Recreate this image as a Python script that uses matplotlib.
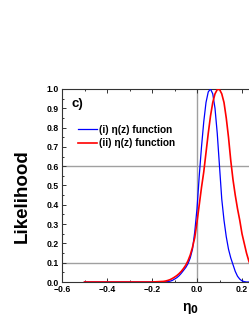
import matplotlib
matplotlib.use("Agg")
import matplotlib.pyplot as plt
from matplotlib.ticker import MultipleLocator

plt.rcParams['font.family'] = ['Liberation Sans', 'DejaVu Sans']
plt.rcParams['font.weight'] = 'bold'

# Curve (i): eta(z) function, blue
x_i = [-0.5, -0.2, -0.15, -0.14, -0.13, -0.12, -0.11, -0.10, -0.09, -0.08, -0.07, -0.06,
       -0.05, -0.04, -0.03, -0.02, -0.01, 0.00, 0.01, 0.02, 0.03, 0.04, 0.05, 0.06,
       0.07, 0.08, 0.09, 0.10, 0.11, 0.12, 0.13, 0.14, 0.15, 0.16, 0.17, 0.18, 0.19,
       0.20, 0.21, 0.22, 0.5]
y_i = [0.0, 0.0, 0.0, 0.001, 0.002, 0.004, 0.008, 0.015, 0.022, 0.032, 0.045, 0.06,
       0.075, 0.095, 0.125, 0.17, 0.26, 0.38, 0.55, 0.70, 0.83, 0.93, 0.985, 1.0,
       0.975, 0.90, 0.77, 0.60, 0.43, 0.32, 0.235, 0.17, 0.125, 0.09, 0.055, 0.03, 0.015,
       0.006, 0.002, 0.0, 0.0]

# Curve (ii): eta(z) function, red
x_ii = [-0.5, -0.2, -0.15, -0.14, -0.13, -0.12, -0.11, -0.10, -0.09, -0.08, -0.07, -0.06,
        -0.05, -0.04, -0.03, -0.02, -0.01, 0.00, 0.01, 0.02, 0.03, 0.04, 0.05, 0.06,
        0.07, 0.08, 0.09, 0.10, 0.11, 0.12, 0.13, 0.14, 0.15, 0.16, 0.17, 0.18, 0.19,
        0.20, 0.21, 0.22, 0.23, 0.24, 0.25, 0.26, 0.28, 0.30, 0.35, 0.5]
y_ii = [0.0, 0.0, 0.003, 0.005, 0.008, 0.012, 0.018, 0.025, 0.033, 0.043, 0.055, 0.07,
        0.087, 0.11, 0.14, 0.18, 0.23, 0.31, 0.40, 0.49, 0.57, 0.67, 0.77, 0.86,
        0.93, 0.975, 0.997, 0.998, 0.975, 0.93, 0.85, 0.75, 0.63, 0.53, 0.45, 0.38, 0.32,
        0.25, 0.20, 0.15, 0.11, 0.08, 0.055, 0.035, 0.015, 0.005, 0.0, 0.0]

labels = ["(i) η(z) function", "(ii) η(z) function"]
ref_x = [0.0]
ref_y = [0.6, 0.1]

W, H = 249, 323
fig = plt.figure(figsize=(W / 100, H / 100), dpi=100)
ax = fig.add_axes([62 / W, 41 / H, 270 / W, 193 / H])

for xv in ref_x:
    ax.axvline(xv, color='#a0a0a0', lw=1.0, zorder=1)
for yv in ref_y:
    ax.axhline(yv, color='#a0a0a0', lw=1.0, zorder=1)

ax.plot(x_i, y_i, color='#0000ff', lw=0.9, label=labels[0], zorder=3)
ax.plot(x_ii, y_ii, color='#ff0000', lw=1.2, label=labels[1], zorder=4)

ax.set_xlim(-0.6, 0.6)
ax.set_ylim(0.0, 1.0)
ax.xaxis.set_major_locator(MultipleLocator(0.2))
ax.xaxis.set_minor_locator(MultipleLocator(0.1))
ax.yaxis.set_major_locator(MultipleLocator(0.1))
ax.yaxis.set_minor_locator(MultipleLocator(0.05))
ax.tick_params(which='both', direction='in', top=True, right=True, labelsize=6.2,
               width=0.7, color='#333333', pad=2)
ax.tick_params(which='major', length=3)
ax.tick_params(which='minor', length=1.5)
for lab in ax.get_xticklabels() + ax.get_yticklabels():
    lab.set_fontweight('bold')
for s in ax.spines.values():
    s.set_linewidth(0.8)
    s.set_color('#333333')

fig.text(22 / W, 1 - 196 / H, 'Likelihood', rotation=90, fontsize=13.5,
         fontweight='bold', ha='center', va='center')
fig.text(190 / W, 1 - 309 / H, 'η$_0$', fontsize=10, ha='center', va='center')

ax.text(10 / 270, 1 - 15 / 193, 'c)', transform=ax.transAxes, fontsize=9.5,
        fontweight='bold', va='center', ha='left')

leg = ax.legend(loc='upper left', bbox_to_anchor=(16 / 270, 1 - 36 / 193), frameon=False,
                fontsize=7.3, handlelength=1.9, handletextpad=0.2, borderpad=0,
                borderaxespad=0, labelspacing=0.32)

fig.savefig('out.png', dpi=100)
